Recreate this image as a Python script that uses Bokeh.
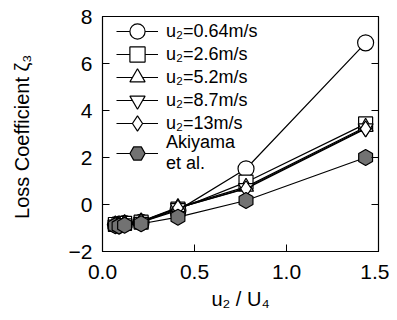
import math
from bokeh.plotting import figure
from bokeh.models import LinearAxis, Range1d, FixedTicker, Legend, LegendItem, NumeralTickFormatter
from bokeh.embed import file_html
from bokeh.resources import INLINE

x_ratio = [0.07, 0.09, 0.12, 0.21, 0.41, 0.78, 1.43]
u064 = [-0.85, -0.85, -0.8, -0.75, -0.25, 1.52, 6.88]
u26 = [-0.85, -0.85, -0.8, -0.75, -0.2, 0.95, 3.43]
u52 = [-0.85, -0.85, -0.8, -0.72, -0.12, 0.75, 3.3]
u87 = [-0.85, -0.85, -0.8, -0.73, -0.15, 0.7, 3.25]
u13 = [-0.85, -0.85, -0.8, -0.73, -0.15, 0.67, 3.22]
akiyama = [-0.9, -0.92, -0.88, -0.82, -0.54, 0.17, 2.0]

labels = ["u₂=0.64m/s", "u₂=2.6m/s", "u₂=5.2m/s", "u₂=8.7m/s", "u₂=13m/s", "Akiyama\net al."]
series = [u064, u26, u52, u87, u13, akiyama]
markers = ["circle", "square", "triangle", "inverted_triangle", "diamond", "hex"]
fills = ["white", "white", "white", "white", "white", "#727272"]
sizes = [16, 14, 15, 15, 16, 16]
angles = [0, 0, 0, 0, 0, math.pi / 2]

FONT = "Liberation Sans"

p = figure(width=389, height=312, output_backend="svg", toolbar_location=None,
           x_range=Range1d(0, 1.5), y_range=Range1d(-2, 8),
           min_border_left=102, min_border_right=11, min_border_top=16, min_border_bottom=61)
p.background_fill_color = "white"
p.border_fill_color = "white"
p.outline_line_color = "black"
p.outline_line_width = 1.2
p.xgrid.visible = False
p.ygrid.visible = False

for ax in (p.xaxis[0], p.yaxis[0]):
    ax.major_tick_in = 7
    ax.major_tick_out = 0
    ax.minor_tick_in = 0
    ax.minor_tick_out = 0
    ax.axis_line_color = "black"
    ax.major_tick_line_color = "black"
    ax.major_label_text_font = FONT
    ax.major_label_text_font_size = "21px"
    ax.major_label_text_color = "black"
    ax.axis_label_text_font = FONT
    ax.axis_label_text_font_size = "20px"
    ax.axis_label_text_font_style = "normal"
    ax.axis_label_text_color = "black"

p.xaxis.ticker = FixedTicker(ticks=[0.0, 0.5, 1.0, 1.5])
p.xaxis.formatter = NumeralTickFormatter(format="0.0")
p.yaxis.ticker = FixedTicker(ticks=[-2, 0, 2, 4, 6, 8])
p.xaxis.axis_label = "u₂ / U₄"
p.yaxis.axis_label = "Loss Coefficient  ζ₃"
p.xaxis.major_label_standoff = 13
p.yaxis.major_label_standoff = 10
p.xaxis.axis_label_standoff = 6
p.yaxis.axis_label_standoff = 33

right = LinearAxis(ticker=FixedTicker(ticks=[-2, 0, 2, 4, 6, 8]))
right.major_tick_in = 7
right.major_tick_out = 0
right.minor_tick_in = 0
right.minor_tick_out = 0
right.major_label_text_font_size = "1px"
right.major_label_text_color = None
right.major_label_standoff = 0
p.add_layout(right, "right")

# one single-item legend per series, stacked 23 px apart, so that the legend markers can be large
for i, (lab, ys, mk, fc, sz, an) in enumerate(zip(labels, series, markers, fills, sizes, angles)):
    r1 = p.line(x_ratio, ys, line_color="black", line_width=1.2)
    r2 = p.scatter(x_ratio, ys, marker=mk, size=sz, fill_color=fc, line_color="black",
                   line_width=1.2, angle=an)
    lg = Legend(items=[LegendItem(label=lab, renderers=[r1, r2])],
                location=(14, 201 - 23 * i - (9 if i == 5 else 0)))
    lg.label_text_font = FONT
    lg.label_text_font_size = "18px"
    lg.label_text_color = "black"
    lg.glyph_width = 42
    lg.glyph_height = 38
    lg.label_height = 20
    lg.spacing = 0
    lg.padding = 4
    lg.margin = 0
    lg.label_standoff = 8
    lg.border_line_color = None
    lg.background_fill_alpha = 0
    p.add_layout(lg)

open("out.html", "w").write(file_html(p, INLINE))
